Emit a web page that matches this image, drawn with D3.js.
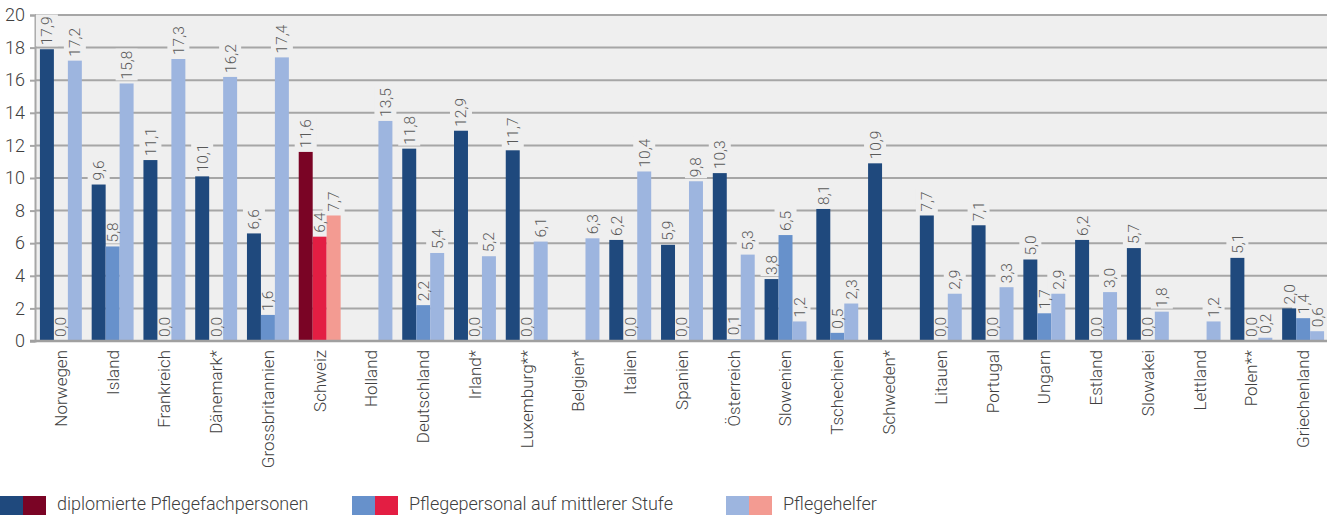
<!DOCTYPE html>
<html><head><meta charset="utf-8">
<script src="https://cdn.jsdelivr.net/npm/d3@7"></script>
<style>
html,body{margin:0;padding:0;background:#fff;}
svg{display:block;font-family:Roboto,"Noto Sans",sans-serif;font-weight:300;}
</style></head>
<body><svg id="chart" width="1327" height="515"></svg>
<script>
const categories = ["Norwegen","Island","Frankreich","Dänemark*","Grossbritannien","Schweiz","Holland","Deutschland","Irland*","Luxemburg**","Belgien*","Italien","Spanien","Österreich","Slowenien","Tschechien","Schweden*","Litauen","Portugal","Ungarn","Estland","Slowakei","Lettland","Polen**","Griechenland"];
const diplomiert = [17.9,9.6,11.1,10.1,6.6,11.6,null,11.8,12.9,11.7,null,6.2,5.9,10.3,3.8,8.1,10.9,7.7,7.1,5.0,6.2,5.7,null,5.1,2.0];
const mittlereStufe = [0.0,5.8,0.0,0.0,1.6,6.4,null,2.2,0.0,0.0,null,0.0,0.0,0.1,6.5,0.5,null,0.0,0.0,1.7,0.0,0.0,null,0.0,1.4];
const pflegehelfer = [17.2,15.8,17.3,16.2,17.4,7.7,13.5,5.4,5.2,6.1,6.3,10.4,9.8,5.3,1.2,2.3,null,2.9,3.3,2.9,3.0,1.8,1.2,0.2,0.6];
const seriesNames = ["diplomierte Pflegefachpersonen","Pflegepersonal auf mittlerer Stufe","Pflegehelfer"];
const yTicks = [0,2,4,6,8,10,12,14,16,18,20];
const highlight = "Schweiz";
const colorsBlue = ["#1f497d","#6791cb","#9db5df"];
const colorsRed = ["#7a0425","#e31e43","#f39b92"];

const svg = d3.select("#chart");
const m = {left:35, top:15, bottom:341, right:1327};

const x0 = d3.scaleBand().domain(categories).range([m.left, m.left + 25*51.76]).paddingInner(0.19).paddingOuter(0.095);
const x1 = d3.scaleBand().domain([0,1,2]).range([0, x0.bandwidth()]);
const y = d3.scaleLinear().domain([0,20]).range([m.bottom, m.top]);
const fmt = v => d3.format(".1f")(v).replace(".", ",");

// plot background
svg.append("rect").attr("x", m.left).attr("y", y(20)).attr("width", m.right - m.left).attr("height", y(0) - y(20)).attr("fill", "#efefef");

// gridlines
svg.append("g").selectAll("line").data(yTicks.filter(t => t > 0)).join("line")
  .attr("x1", m.left).attr("x2", m.right).attr("y1", d => y(d)).attr("y2", d => y(d))
  .attr("stroke", "#a6a6a6").attr("stroke-width", 2);

// y axis
const yAxis = d3.axisLeft(y).tickValues(yTicks).tickSize(5).tickPadding(5).tickFormat(d3.format("d"));
const gy = svg.append("g").attr("transform", `translate(${m.left},0)`).call(yAxis);
gy.select(".domain").attr("stroke", "#a6a6a6").attr("stroke-width", 2);
gy.selectAll(".tick line").attr("stroke", "#a6a6a6").attr("stroke-width", 2);
gy.selectAll(".tick text").attr("fill", "#404040").style("font-size", "18px").style("font-family", "Roboto").style("font-weight", 300);

// data rows
const rows = [];
categories.forEach((c, i) => {
  [diplomiert[i], mittlereStufe[i], pflegehelfer[i]].forEach((v, s) => {
    if (v !== null) rows.push({cat: c, s, v});
  });
});

const labelGap = 4;
const labels = svg.append("g");
const bars = svg.append("g");
const labelText = svg.append("g");

const lg = labels.selectAll("g").data(rows).join("g")
  .attr("transform", d => `translate(${x0(d.cat) + x1(d.s) + x1.bandwidth()/2},${y(d.v) - labelGap}) rotate(-90)`);
const lt = labelText.selectAll("g").data(rows).join("g")
  .attr("transform", d => `translate(${x0(d.cat) + x1(d.s) + x1.bandwidth()/2},${y(d.v) - labelGap}) rotate(-90)`);
const texts = lt.append("text").text(d => fmt(d.v))
  .attr("x", 0).attr("y", 0).attr("dy", "0.35em")
  .attr("text-anchor", "start").attr("fill", "#595959")
  .style("font-size", "15.5px");
texts.each(function(d){ d.len = this.getComputedTextLength(); });
lg.append("rect").attr("x", -1).attr("y", -11).attr("width", d => d.len + 3).attr("height", 22).attr("fill", "#efefef");

// bars
bars.selectAll("rect").data(rows).join("rect")
  .attr("x", d => x0(d.cat) + x1(d.s))
  .attr("y", d => y(d.v))
  .attr("width", x1.bandwidth())
  .attr("height", d => y(0) - y(d.v))
  .attr("fill", d => (d.cat === highlight ? colorsRed : colorsBlue)[d.s]);

// x axis baseline
svg.append("line").attr("x1", m.left - 5).attr("x2", m.right).attr("y1", y(0)).attr("y2", y(0))
  .attr("stroke", "#a0a0a0").attr("stroke-width", 2.5);

// x labels
const xAxis = d3.axisBottom(x0).tickSize(0).tickPadding(0);
const gx = svg.append("g").attr("transform", `translate(0,${y(0)})`).call(xAxis);
gx.select(".domain").remove();
gx.selectAll(".tick text")
  .attr("transform", "translate(0,9) rotate(-90)")
  .attr("x", 0).attr("y", 0).attr("dy", "0.35em")
  .attr("text-anchor", "end")
  .attr("fill", "#404040")
  .style("font-size", "17px").style("font-family", "Roboto").style("font-weight", 300);

// legend
const legendX = [0, 352, 726];
const leg = svg.append("g").selectAll("g").data(seriesNames).join("g")
  .attr("transform", (d, i) => `translate(${legendX[i]},496)`);
leg.append("rect").attr("x", 0).attr("y", 0).attr("width", 23).attr("height", 22).attr("fill", (d, i) => colorsBlue[i]);
leg.append("rect").attr("x", 23).attr("y", 0).attr("width", 23).attr("height", 22).attr("fill", (d, i) => colorsRed[i]);
leg.append("text").text(d => d).attr("x", 57).attr("y", 14)
  .attr("fill", "#404040").style("font-size", "18px");
</script></body></html>
